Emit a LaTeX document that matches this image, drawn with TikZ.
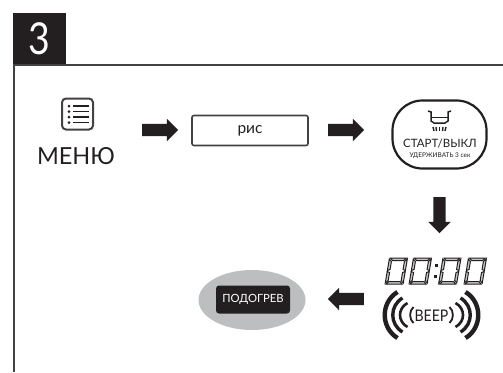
\documentclass[tikz,border=0pt]{standalone}
\usepackage{fontspec}
\setmainfont{Lato}
\usetikzlibrary{shapes.arrows,shapes.geometric}
\definecolor{inkblack}{HTML}{231F20}
\definecolor{ovalgray}{HTML}{BCBEC0}

\begin{document}
\begin{tikzpicture}[x=1pt,y=-1pt]
\tikzstyle{blockarrow}=[single arrow,fill=inkblack,minimum height=36pt,minimum width=22pt,inner sep=0pt,text height=12pt,text depth=0pt,text width=12pt,single arrow head extend=5pt,single arrow head indent=0pt]
\tikzstyle{caption}=[text=inkblack,inner sep=0pt]
\tikzstyle{segment}=[draw=inkblack,fill=inkblack!25,line width=1pt]
\useasboundingbox (0,0) rectangle (503,372);
% frame and number tab
\node[fill=inkblack,minimum width=53pt,minimum height=52pt,inner sep=0pt,text=white,font=\fontsize{44}{44}\selectfont] (tab) at (39.5,39) {\scalebox{0.85}[1]{3}};
\draw[inkblack!85,line width=1.5pt] (14,372) -- (14,65) -- (503,65);
% menu icon
\node[draw=inkblack!85,line width=2pt,rounded corners=4pt,minimum width=31pt,minimum height=31pt,inner sep=0pt] (menuicon) at (77.5,114) {};
\foreach \y in {106,111.5,117,122.5}{
\fill[inkblack] (69,\y) circle (1.5pt);
\draw[inkblack,line width=1.8pt] (73,\y) -- (89,\y);
}
\node[caption,font=\fontsize{23.5}{23.5}\selectfont] (menu) at (76,156) {МЕНЮ};
\node[blockarrow] (arrow1) at (157,130) {};
% rice box
\node[draw=inkblack!85,line width=1.6pt,rounded corners=2pt,minimum width=116pt,minimum height=30pt,inner sep=0pt] (rice) at (250,130.5) {};
\node[caption,font=\fontsize{15.5}{15.5}\selectfont] (ricetext) at (250,131) {рис};
\node[blockarrow] (arrow2) at (343,130) {};
% start button
\node[draw=inkblack,line width=2.2pt,rounded corners=30pt,minimum width=94pt,minimum height=68pt,inner sep=0pt] (start) at (439.5,134.5) {};
\draw[inkblack,line width=1.5pt] (428,111) -- (431,112) -- (431,121) -- (434,123) -- (445,123) -- (448,121) -- (448,112) -- (451,111);
\draw[inkblack,line width=1.2pt] (431,117.5) -- (448,117.5);
\foreach \x/\s in {433/1,436/0.5,439.5/0,443/-0.5,446/-1}{
\draw[inkblack,line width=1.4pt] (\x,127) -- (\x+\s,131);
}
\node[caption,font=\fontsize{11.5}{11.5}\selectfont] (starttext) at (440,143.5) {СТАРТ/ВЫКЛ};
\node[caption,font=\fontsize{6.5}{6.5}\selectfont] (holdtext) at (440,156) {УДЕРЖИВАТЬ 3 сек};
\node[blockarrow,shape border rotate=270] (arrow3) at (439.5,212) {};
% clock digits
\foreach \x in {389,413,442.5,468}{
\begin{scope}[shift={(\x,258)},xslant=0.17]
\draw[segment] (1.5,0) -- (17.5,0) -- (15,2.5) -- (4,2.5) -- cycle;
\draw[segment] (1.5,26) -- (17.5,26) -- (15,23.5) -- (4,23.5) -- cycle;
\draw[segment] (0.5,1) -- (3,3.5) -- (3,11.5) -- (0.5,12.5) -- cycle;
\draw[segment] (18.5,1) -- (16,3.5) -- (16,11.5) -- (18.5,12.5) -- cycle;
\draw[segment] (0.5,25) -- (3,22.5) -- (3,14.5) -- (0.5,13.5) -- cycle;
\draw[segment] (18.5,25) -- (16,22.5) -- (16,14.5) -- (18.5,13.5) -- cycle;
\end{scope}
}
\fill[inkblack] (434.8,264) rectangle +(3,3);
\fill[inkblack] (433.5,275) rectangle +(3,3);
% beep waves
\node[caption,font=\fontsize{16}{16}\selectfont] (beep) at (431.5,316) {\scalebox{0.88}[1]{BEEP}};
\foreach \dx/\dy/\cx/\w in {34/23/51/4.4,29/17/42/3.4,24/12/34/2.6,18/8/22.5/1.8}{
\draw[inkblack,line width=\w pt] (431.5-\dx,315-\dy) .. controls (431.5-\cx,315-0.55*\dy) and (431.5-\cx,315+0.55*\dy) .. (431.5-\dx,315+\dy);
\draw[inkblack,line width=\w pt] (431.5+\dx,315-\dy) .. controls (431.5+\cx,315-0.55*\dy) and (431.5+\cx,315+0.55*\dy) .. (431.5+\dx,315+\dy);
}
\node[blockarrow,shape border rotate=180] (arrow4) at (349,299) {};
% keep warm button
\node[ellipse,fill=ovalgray,minimum width=107pt,minimum height=60pt,inner sep=0pt] (oval) at (252,300) {};
\node[fill=inkblack,rounded corners=3pt,minimum width=74pt,minimum height=28pt,inner sep=0pt,text=white,font=\fontsize{11.3}{11.3}\selectfont] (warm) at (253,299.5) {ПОДОГРЕВ};
\end{tikzpicture}
\end{document}
